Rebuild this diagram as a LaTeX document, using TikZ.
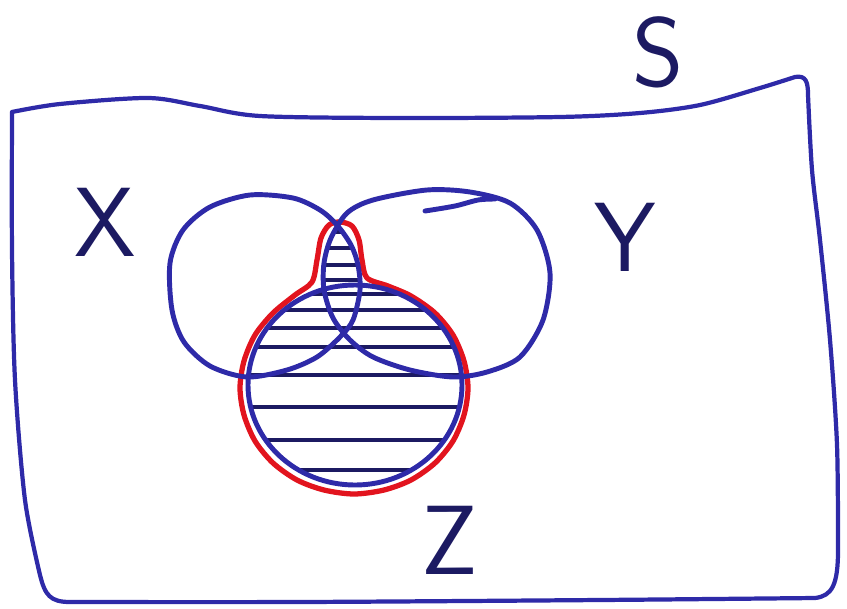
\documentclass[tikz,border=0pt]{standalone}
\usetikzlibrary{calc}
\definecolor{penblue}{HTML}{2E2AA8}
\definecolor{pennavy}{HTML}{1C1A62}
\definecolor{penred}{HTML}{E2141E}
\tikzset{
  setline/.style   = {draw=penblue, line width=2.8pt, line join=round, line cap=round},
  frameline/.style = {draw=penblue, line width=2.4pt, line join=round, line cap=round},
  redrim/.style    = {draw=penred, line width=3.0pt, line join=round},
  hatchline/.style = {draw=pennavy, line width=2.6pt, line cap=round},
  setlabel/.style  = {font=\fontsize{56}{56}\selectfont\sffamily, text=pennavy, inner sep=0pt},
}
% the three hand drawn sets
\newcommand{\xshape}{plot[smooth cycle] coordinates {(250,195) (293,198) (320,210) (337,225)
  (351,245) (358,265) (360,290) (353,320) (340,337) (317,357) (287,370) (247,377)
  (210,366) (184,342) (172,310) (170,263) (183,230) (210,207)}}
\newcommand{\yshape}{plot[smooth cycle] coordinates {(347,213) (373,200) (427,190) (470,192)
  (510,203) (537,230) (550,273) (543,320) (520,357) (487,372) (453,377) (410,370)
  (373,357) (350,340) (333,318) (324,290) (324,263) (331,238)}}
\newcommand{\zshape}{(355,385) ellipse [x radius=107, y radius=100]}

\begin{document}
\begin{tikzpicture}[x=0.02cm, y=-0.02cm]
\useasboundingbox (0,0) rectangle (847,608);

% =============== RED RIM OF Z AND X∩Y ===============
\draw[redrim] plot[smooth cycle] coordinates {(340,222) (352,226) (359,240) (362,260)
  (367,278) (388,286) (411,296) (435,313) (453,335) (464,361) (468,388) (464,415)
  (453,441) (435,463) (411,480) (384,490) (354,494) (324,490) (297,480) (273,463)
  (255,441) (244,415) (240,388) (244,361) (255,335) (273,313) (295,295) (312,282)
  (317,260) (321,238) (329,225)};

% =============== HATCHING ===============
\begin{scope}
  \clip \zshape;
  \foreach \h in {294,310,328,347,375,407,440,470}
    \draw[hatchline] (230,\h) -- (480,\h);
\end{scope}
\begin{scope}
  \clip \xshape;
  \clip \yshape;
  \foreach \h in {232,248,265,280,294,310,328}
    \draw[hatchline] (300,\h) -- (380,\h);
\end{scope}

% =============== SETS ===============
\draw[setline] \xshape;
\draw[setline] \yshape;
\draw[setline] \zshape;
\draw[setline] plot[smooth] coordinates {(425,211) (455,206) (478,200) (495,199)};

% =============== UNIVERSE S ===============
\draw[frameline] plot[smooth] coordinates {(12,112) (60,104) (148,98) (200,106) (260,116)
  (400,118) (560,117) (640,113) (700,105) (760,88) (795,77)}
  .. controls (806,75) and (808,82) .. (808,95)
  plot[smooth] coordinates {(808,95) (812,170) (820,240) (830,340) (837,445) (838,550)}
  .. controls (838,585) and (832,596) .. (815,598)
  plot[smooth] coordinates {(815,598) (600,600) (300,602) (70,602)}
  .. controls (50,602) and (45,595) .. (40,575)
  plot[smooth] coordinates {(40,575) (25,500) (15,380) (12,250) (12,112)};

% =============== LABELS ===============
\node[setlabel] (lblS) at (658,52)  {S};
\node[setlabel] (lblX) at (105,222) {X};
\node[setlabel] (lblY) at (625,237) {Y};
\node[setlabel] (lblZ) at (450,540) {Z};

\end{tikzpicture}
\end{document}
